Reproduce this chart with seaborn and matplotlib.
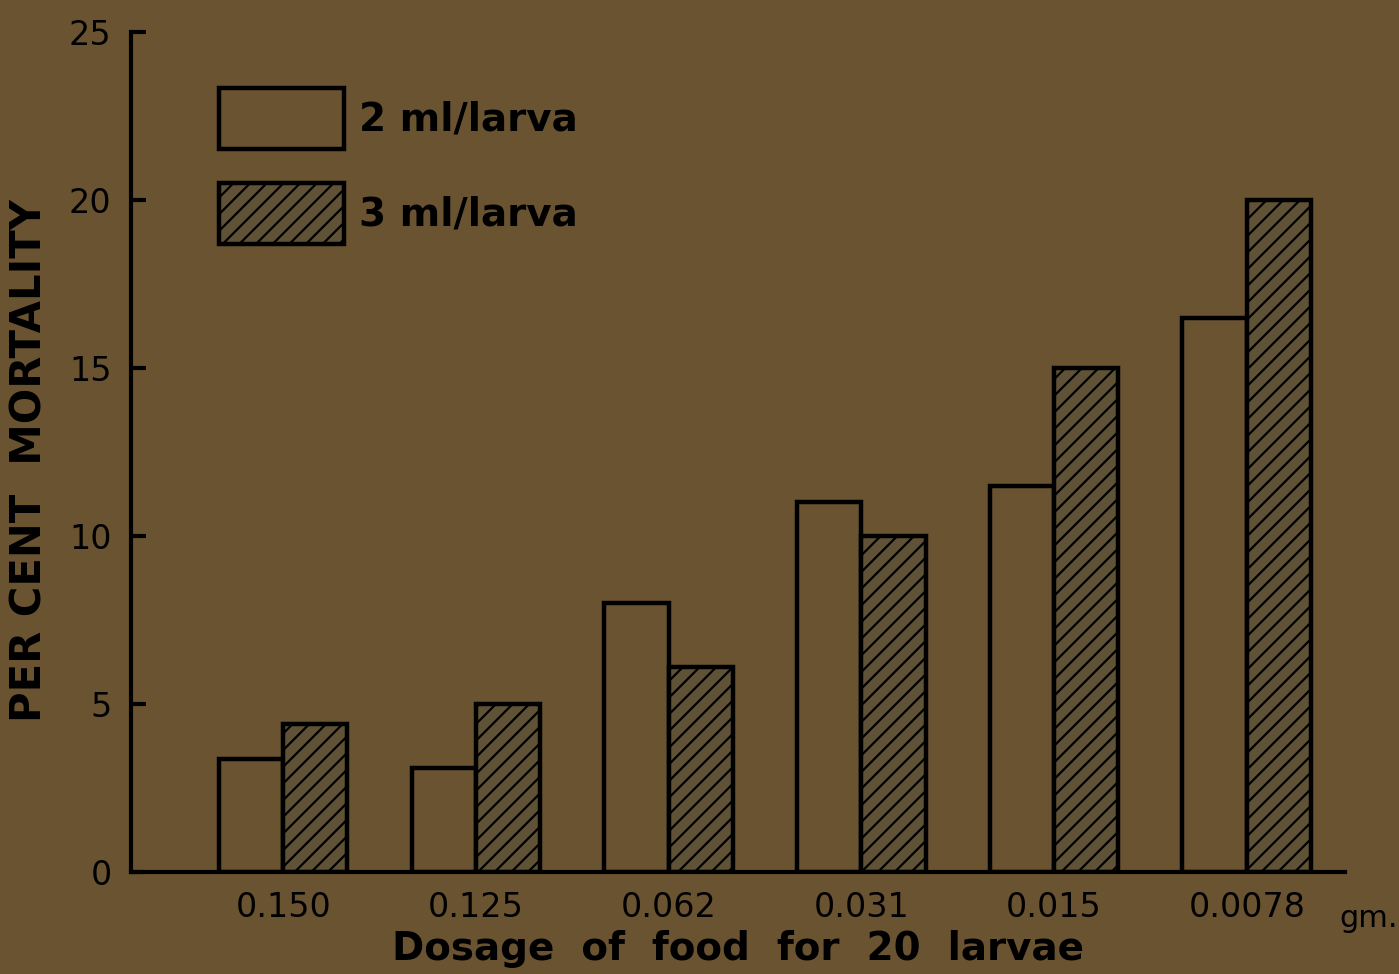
import numpy as np
import seaborn as sns
import matplotlib.pyplot as plt
import pandas as pd
from matplotlib.patches import Patch

dosages = ["0.150", "0.125", "0.062", "0.031", "0.015", "0.0078"]
ml2 = [3.35, 3.1, 8.0, 11.0, 11.5, 16.5]
ml3 = [4.4, 5.0, 6.1, 10.0, 15.0, 20.0]
series = ["2 ml/larva", "3 ml/larva"]

bg = "#6a5331"
hatch_fill = "#5f5236"

df = pd.DataFrame({
    "dose": dosages * 2,
    "mort": ml2 + ml3,
    "vol": [series[0]] * 6 + [series[1]] * 6,
})

sns.set_style("white")
plt.rcParams["font.family"] = ["DejaVu Sans"]
plt.rcParams["hatch.linewidth"] = 1.6
plt.rcParams["hatch.color"] = "black"
plt.rcParams["text.color"] = "black"

fig = plt.figure(figsize=(13.99, 9.74), dpi=100, facecolor=bg)
ax = fig.add_axes([0.0936, 0.1047, 0.8678, 0.8623])
ax.set_facecolor(bg)

sns.barplot(data=df, x="dose", y="mort", hue="vol", order=dosages,
            hue_order=series, palette=[bg, hatch_fill], width=0.667,
            gap=0, edgecolor="black", linewidth=3.2, saturation=1,
            legend=False, ax=ax)
for p in ax.containers[1]:
    p.set_hatch("//")

ax.set_ylim(0, 25)
ax.set_xlim(-0.79, 5.51)
ax.set_yticks([0, 5, 10, 15, 20, 25])
ax.set_yticklabels(["0", "5", "10", "15", "20", "25"])
ax.tick_params(axis="y", direction="in", length=11, width=3, pad=14,
               labelsize=24, colors="black", left=True)
ax.tick_params(axis="x", length=0, pad=14, labelsize=24, colors="black")

for s in ["top", "right"]:
    ax.spines[s].set_visible(False)
for s in ["left", "bottom"]:
    ax.spines[s].set_linewidth(3)
    ax.spines[s].set_color("black")

ax.set_ylabel("PER CENT  MORTALITY", fontsize=30, fontweight="bold",
              color="black")
ax.yaxis.set_label_coords(-0.066, 0.49)
ax.set_xlabel("Dosage  of  food  for  20  larvae", fontsize=28,
              fontweight="bold", labelpad=4, color="black")
ax.text(5.48, -0.95, "gm.", ha="left", va="top",
        fontsize=22, color="black", clip_on=False)

handles = [Patch(facecolor=bg, edgecolor="black", linewidth=3.2),
           Patch(facecolor=hatch_fill, edgecolor="black", linewidth=3.2,
                 hatch="//")]
leg = ax.legend(handles, series, loc="upper left",
                bbox_to_anchor=(0.06, 0.952), frameon=False, fontsize=28,
                handlelength=3.2, handleheight=2.05, labelspacing=0.86,
                handletextpad=0.4, borderaxespad=0, labelcolor="black")
for t in leg.get_texts():
    t.set_fontweight("bold")

plt.savefig("out.png", dpi=100, facecolor=bg)
